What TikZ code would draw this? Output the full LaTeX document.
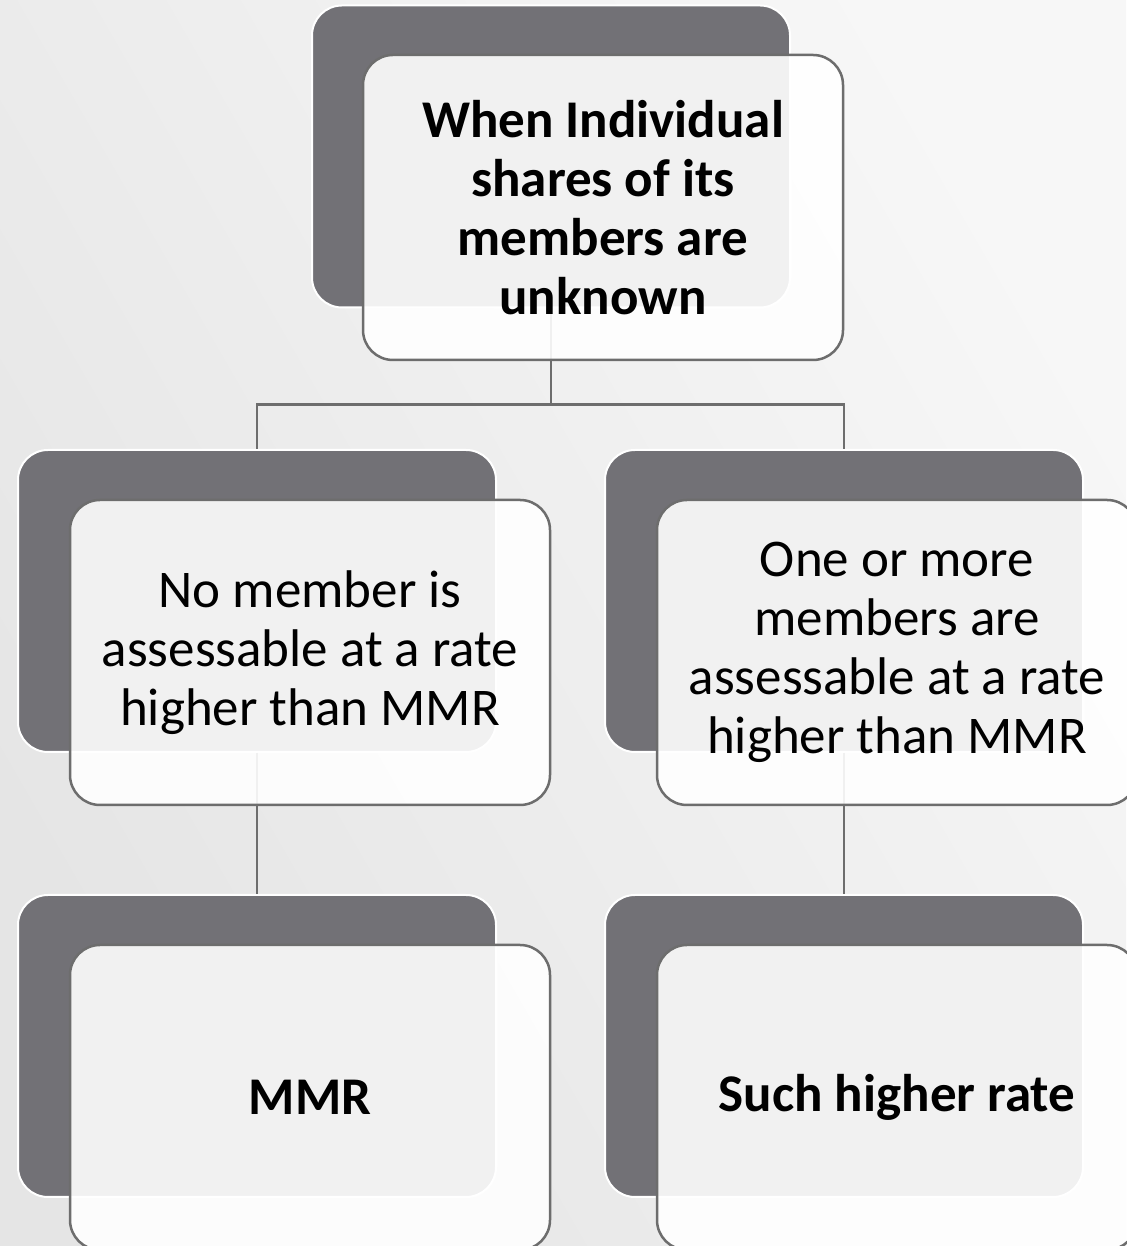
\documentclass[tikz,border=0pt]{standalone}
\usepackage{fontspec}
\setmainfont{Carlito}
\definecolor{darkbox}{HTML}{727176}
\definecolor{edgegray}{HTML}{6D6D6D}
\definecolor{bgA}{HTML}{E5E5E5}
\definecolor{bgB}{HTML}{F7F7F7}
\begin{document}
\begin{tikzpicture}[x=1pt,y=1pt,
  back/.style={draw=white, line width=2pt, fill=darkbox, rounded corners=30pt,
    minimum width=478pt, minimum height=302pt, inner sep=0pt},
  front/.style={draw=edgegray, line width=2.5pt, fill=white, fill opacity=0.9,
    text opacity=1, rounded corners=30pt, minimum width=480pt, minimum height=305pt,
    inner sep=0pt, align=center, font=\fontsize{53}{59}\selectfont},
  frontbold/.style={front, font=\fontsize{53}{59}\selectfont\bfseries},
  link/.style={draw=edgegray, line width=2.5pt}]
\useasboundingbox (0,0) rectangle (1126,1246);
\shade[left color=bgA, right color=bgB, shading angle=120] (0,0) rectangle (1126,1246);
% back plates
\node[back] (tb) at (551,1089.5) {};
\node[back] (lb) at (257,645) {};
\node[back] (rb) at (844,645) {};
\node[back] (llb) at (257,200) {};
\node[back] (rrb) at (844,200) {};
% connectors
\draw[link] (tb.south) -- ++(0,-96) coordinate (j);
\draw[link] (j) -| (lb.north);
\draw[link] (j) -| (rb.north);
\draw[link] (lb.south) -- (llb.north);
\draw[link] (rb.south) -- (rrb.north);
% front cards
\node[frontbold] (t) at (603,1038.5) {When Individual\\shares of its\\members are\\unknown};
\node[front] (l) at (310,593.5) {No member is\\assessable at a rate\\higher than MMR};
\node[front] (r) at (897,593.5) {One or more\\members are\\assessable at a rate\\higher than MMR};
\node[frontbold] (ll) at (310,148.5) {MMR};
\node[frontbold] (rr) at (897,148.5) {Such higher rate};
\end{tikzpicture}
\end{document}
